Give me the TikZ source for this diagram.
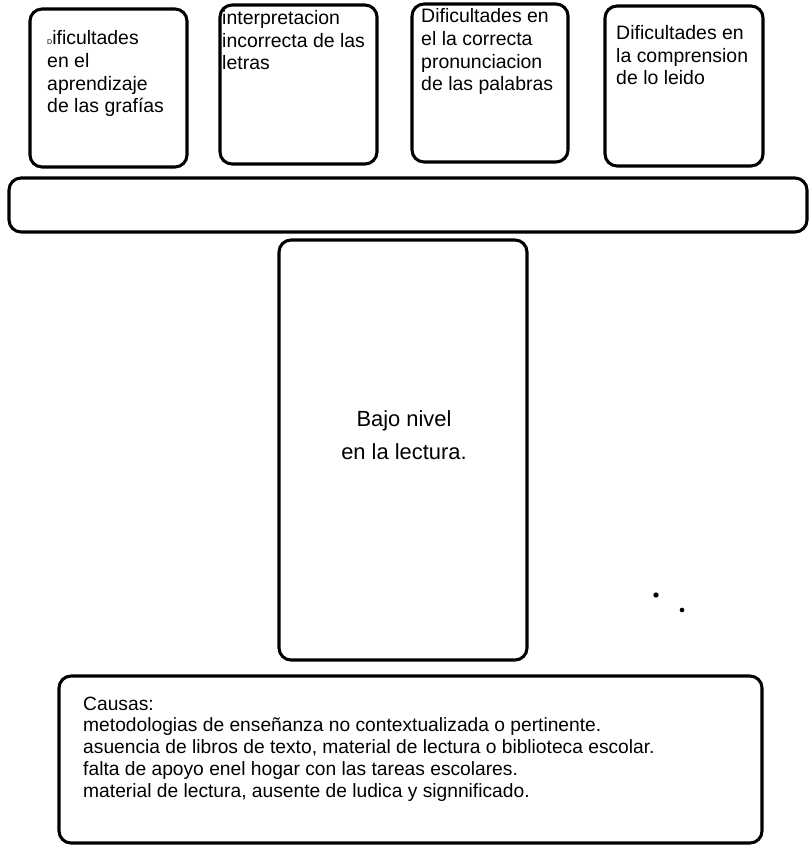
\documentclass[tikz,border=0pt]{standalone}
\usepackage{fontspec}
\setmainfont{Liberation Sans}
\begin{document}
\begin{tikzpicture}[
      x=0.03cm, y=-0.03cm,
      caja/.style={line width=2.6pt, rounded corners=0.36cm},
      texto/.style={anchor=base west, inner sep=0pt, align=left,
        font=\fontsize{16.6}{19.6}\selectfont},
      causas/.style={anchor=base west, inner sep=0pt, align=left,
        font=\fontsize{16.4}{18.5}\selectfont},
      centro/.style={anchor=base, inner sep=0pt, align=center,
        font=\fontsize{18.7}{28.1}\selectfont}
    ]
    \useasboundingbox (0,0) rectangle (809,846);
    % cajas de arriba
    \draw[caja] (30,9) rectangle (187,167);
    \draw[caja] (220,5) rectangle (377,164);
    \draw[caja] (412,4) rectangle (568,162);
    \draw[caja] (605,6) rectangle (763,166);
    % barra
    \draw[caja] (9,178) rectangle (807,232);
    % problema central y causas
    \draw[caja] (279,240) rectangle (527,660);
    \draw[caja] (59,676) rectangle (762,843);
    % (base = ultima linea)
    \path (47,113) node(a) [texto] {{\fontsize{6}{7}\selectfont D}ificultades\\en el\\aprendizaje\\de las grafías}
          (222,70) node(b) [texto] {interpretacion\\incorrecta de las\\letras}
          (421,91) node(c) [texto] {Dificultades en\\el la correcta\\pronunciacion\\de las palabras}
          (616,85) node(d) [texto] {Dificultades en\\la comprension\\de lo leido}
          (404,459) node(e) [centro] {Bajo nivel\\en la lectura.}
          (83,797) node(f) [causas] {Causas:\\metodologias de enseñanza no contextualizada o pertinente.\\asuencia de libros de texto, material de lectura o biblioteca escolar.\\falta de apoyo enel hogar con las tareas escolares.\\material de lectura, ausente de ludica y signnificado.};
    \fill (656,595) circle[radius=0.08cm] (682,610) circle[radius=0.07cm];
\end{tikzpicture}
\end{document}
